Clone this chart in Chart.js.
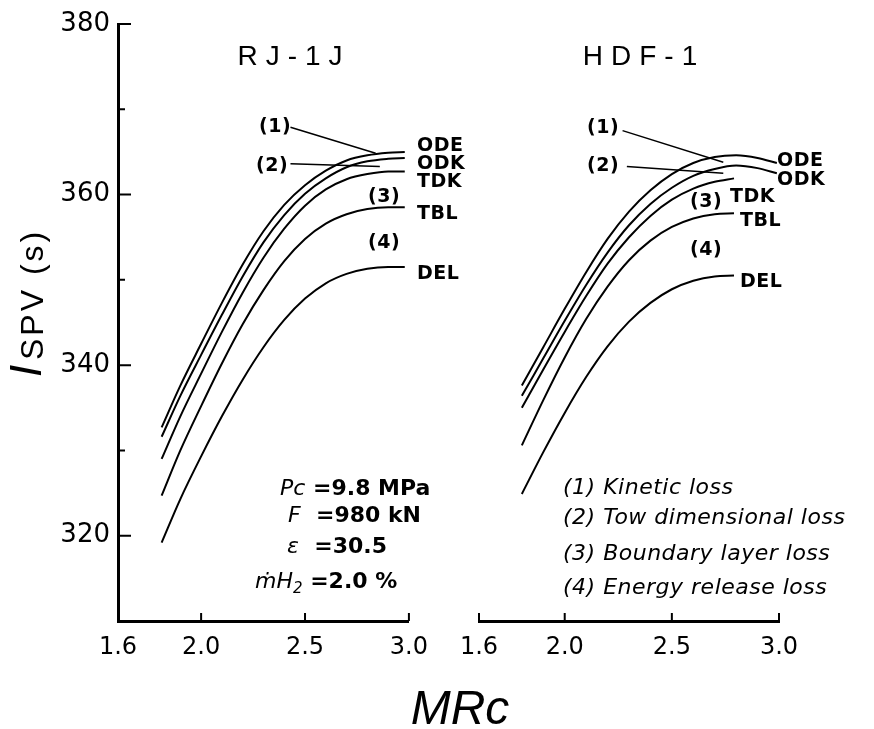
<!DOCTYPE html>
<html lang="en">
<head>
    <meta charset="UTF-8">
    <title>Isp vs MRc - RJ-1J / HDF-1</title>
    <script src="https://cdn.jsdelivr.net/npm/chart.js"></script>
    <style>
        body { margin: 0; background: #fff; }
        #wrap { position: relative; width: 874px; height: 729px; background: #fff; overflow: hidden; }
        canvas { position: absolute; top: 0; display: block; }
        .t { position: absolute; line-height: 1; white-space: nowrap; color: #000; font-family: "DejaVu Sans", sans-serif; }
        .title { font-family: "Liberation Sans", sans-serif; font-size: 28px; letter-spacing: 8px; transform: translateX(-50%); margin-left: 4px; }
        .cl { font-size: 19px; font-weight: bold; letter-spacing: 0.5px; }
        .note { font-size: 22px; font-weight: bold; }
        .note i { font-weight: normal; }
        .leg { font-size: 22px; font-style: italic; letter-spacing: 0.5px; }
        .rot { transform-origin: 0 0; transform: rotate(-90deg); font-family: "Liberation Sans", sans-serif; }
    </style>
</head>
<body>
<div id="wrap">
    <canvas id="rjChart" width="440" height="729" style="left:0"></canvas>
    <canvas id="hdfChart" width="434" height="729" style="left:440px"></canvas>

    <!-- titulos de cada panel -->
    <div class="t title" style="left:290px; top:42px">RJ-1J</div>
    <div class="t title" style="left:640px; top:42px">HDF-1</div>

    <!-- etiquetas de curvas, panel izquierdo -->
    <div class="t cl" style="left:417px; top:135px">ODE</div>
    <div class="t cl" style="left:417px; top:153px">ODK</div>
    <div class="t cl" style="left:417px; top:171px">TDK</div>
    <div class="t cl" style="left:417px; top:203px">TBL</div>
    <div class="t cl" style="left:417px; top:263px">DEL</div>
    <div class="t cl" style="left:259px; top:116px">(1)</div>
    <div class="t cl" style="left:256px; top:155px">(2)</div>
    <div class="t cl" style="left:368px; top:186px">(3)</div>
    <div class="t cl" style="left:368px; top:232px">(4)</div>

    <!-- etiquetas de curvas, panel derecho -->
    <div class="t cl" style="left:777px; top:150px">ODE</div>
    <div class="t cl" style="left:777px; top:169px">ODK</div>
    <div class="t cl" style="left:730px; top:186px">TDK</div>
    <div class="t cl" style="left:740px; top:210px">TBL</div>
    <div class="t cl" style="left:740px; top:271px">DEL</div>
    <div class="t cl" style="left:587px; top:117px">(1)</div>
    <div class="t cl" style="left:587px; top:155px">(2)</div>
    <div class="t cl" style="left:690px; top:191px">(3)</div>
    <div class="t cl" style="left:690px; top:239px">(4)</div>

    <!-- condiciones -->
    <div class="t note" style="left:280px; top:477px"><i>Pc</i> =9.8 MPa</div>
    <div class="t note" style="left:288px; top:504px"><i>F</i> &nbsp;=980 kN</div>
    <div class="t note" style="left:287px; top:535px"><i>&epsilon;</i> &nbsp;=30.5</div>
    <div class="t note" style="left:255px; top:570px"><i>&#7745;H<sub style="font-size:15px">2</sub></i> =2.0 %</div>

    <!-- leyenda de perdidas -->
    <div class="t leg" style="left:563px; top:476px">(1) Kinetic loss</div>
    <div class="t leg" style="left:563px; top:506px">(2) Tow dimensional loss</div>
    <div class="t leg" style="left:563px; top:542px">(3) Boundary layer loss</div>
    <div class="t leg" style="left:563px; top:576px">(4) Energy release loss</div>

    <!-- titulos de ejes -->
    <div class="t rot" style="left:4px; top:377px; font-size:44px; font-style:italic">I</div>
    <div class="t rot" style="left:16px; top:360px; font-size:32px; letter-spacing:3px">SPV (s)</div>
    <div class="t" style="left:460px; top:684px; transform:translateX(-50%); font-family:'Liberation Sans',sans-serif; font-size:48px; font-style:italic">MRc</div>
</div>

<script>
    // valores
    const mrLeft = [1.81, 1.9, 2.0, 2.1, 2.2, 2.3, 2.4, 2.5, 2.6, 2.7, 2.8, 2.9, 2.98];
    const rjODE = [332.7, 337.6, 342.5, 347.3, 351.8, 355.7, 358.8, 361.1, 362.8, 364.0, 364.6, 364.9, 365.0];
    const rjODK = [331.6, 336.4, 341.2, 345.9, 350.4, 354.4, 357.6, 360.1, 361.9, 363.2, 363.9, 364.2, 364.3];
    const rjTDK = [329.0, 334.0, 339.0, 343.9, 348.5, 352.6, 356.0, 358.7, 360.6, 361.8, 362.4, 362.7, 362.7];
    const rjTBL = [324.7, 330.0, 335.2, 340.2, 344.8, 348.8, 352.2, 354.8, 356.6, 357.7, 358.3, 358.5, 358.5];
    const rjDEL = [319.2, 324.3, 329.3, 334.0, 338.3, 342.1, 345.3, 347.8, 349.6, 350.7, 351.3, 351.5, 351.5];

    const mrRight = [1.80, 1.9, 2.0, 2.1, 2.2, 2.3, 2.4, 2.5, 2.6, 2.7, 2.8, 2.9, 2.99];
    const mrRightShort = [1.80, 1.9, 2.0, 2.1, 2.2, 2.3, 2.4, 2.5, 2.6, 2.7, 2.79];
    const hdfODE = [337.6, 342.1, 346.6, 350.9, 354.8, 358.0, 360.5, 362.4, 363.7, 364.4, 364.6, 364.3, 363.7];
    const hdfODK = [336.4, 340.8, 345.2, 349.4, 353.2, 356.4, 358.9, 360.8, 362.2, 363.0, 363.4, 363.1, 362.5];
    const hdfTDK = [335.0, 339.5, 343.9, 348.1, 351.9, 355.0, 357.5, 359.4, 360.7, 361.5, 361.9];
    const hdfTBL = [330.6, 335.9, 340.9, 345.4, 349.2, 352.3, 354.6, 356.2, 357.2, 357.7, 357.8];
    const hdfDEL = [324.9, 329.8, 334.4, 338.6, 342.2, 345.1, 347.3, 348.9, 349.9, 350.4, 350.5];

    const yMajor = [320, 340, 360, 380];
    const yMinor = [330, 350, 370];
    const xTicks = [1.6, 2.0, 2.5, 3.0];

    Chart.defaults.font.family = "'DejaVu Sans', sans-serif";
    Chart.defaults.color = '#000';

    // marcas de escala hacia adentro y lineas guia de (1) y (2)
    const insideTicks = {
        id: 'insideTicks',
        afterDraw(chart, args, opts) {
            const ctx = chart.ctx;
            const x = chart.scales.x;
            const y = chart.scales.y;
            ctx.save();
            ctx.strokeStyle = '#000';
            ctx.lineWidth = 2;
            ctx.beginPath();
            if (opts.yAxis) {
                yMajor.forEach(v => {
                    const py = y.getPixelForValue(v);
                    ctx.moveTo(x.left, py);
                    ctx.lineTo(x.left + 13, py);
                });
                yMinor.forEach(v => {
                    const py = y.getPixelForValue(v);
                    ctx.moveTo(x.left, py);
                    ctx.lineTo(x.left + 7, py);
                });
            }
            xTicks.forEach(v => {
                const px = x.getPixelForValue(v);
                ctx.moveTo(px, y.bottom);
                ctx.lineTo(px, y.bottom - 8);
            });
            ctx.stroke();
            ctx.lineWidth = 1.5;
            ctx.beginPath();
            (opts.leaders || []).forEach(l => {
                ctx.moveTo(x.getPixelForValue(l[0]), y.getPixelForValue(l[1]));
                ctx.lineTo(x.getPixelForValue(l[2]), y.getPixelForValue(l[3]));
            });
            ctx.stroke();
            ctx.restore();
        }
    };

    function curve(xs, ys) {
        return {
            data: xs.map((v, i) => ({ x: v, y: ys[i] })),
            borderColor: '#000',
            borderWidth: 2,
            pointRadius: 0,
            fill: false,
            cubicInterpolationMode: 'monotone'
        };
    }

    function makeChart(id, datasets, showY, padding, leaders) {
        return new Chart(document.getElementById(id), {
            type: 'line',
            data: { datasets: datasets },
            options: {
                responsive: false,
                animation: false,
                devicePixelRatio: 1,
                layout: { padding: padding },
                plugins: {
                    legend: { display: false },
                    tooltip: { enabled: false },
                    insideTicks: { yAxis: showY, leaders: leaders }
                },
                scales: {
                    x: {
                        type: 'linear',
                        min: 1.6,
                        max: 3.0,
                        grid: { display: false, drawTicks: false },
                        border: { color: '#000', width: 3 },
                        afterBuildTicks: s => { s.ticks = xTicks.map(v => ({ value: v })); },
                        afterFit: s => { s.height = 108; },
                        ticks: {
                            autoSkip: false,
                            maxRotation: 0,
                            padding: 12,
                            font: { size: 24 },
                            callback: v => Number(v).toFixed(1)
                        }
                    },
                    y: {
                        type: 'linear',
                        display: showY,
                        min: 310,
                        max: 380,
                        grid: { display: false, drawTicks: false },
                        border: { color: '#000', width: 3 },
                        afterBuildTicks: s => { s.ticks = yMajor.map(v => ({ value: v })); },
                        afterFit: s => { s.width = showY ? 118 : 0; },
                        ticks: {
                            autoSkip: false,
                            padding: 8,
                            font: { size: 26 }
                        }
                    }
                }
            },
            plugins: [insideTicks]
        });
    }

    const rjChart = makeChart('rjChart', [
        curve(mrLeft, rjODE),
        curve(mrLeft, rjODK),
        curve(mrLeft, rjTDK),
        curve(mrLeft, rjTBL),
        curve(mrLeft, rjDEL)
    ], true, { top: 24, right: 25, bottom: 0, left: 0 },
       [[2.43, 367.9, 2.84, 364.85], [2.43, 363.6, 2.86, 363.3]]);

    const hdfChart = makeChart('hdfChart', [
        curve(mrRight, hdfODE),
        curve(mrRight, hdfODK),
        curve(mrRightShort, hdfTDK),
        curve(mrRightShort, hdfTBL),
        curve(mrRightShort, hdfDEL)
    ], false, { top: 24, right: 95, bottom: 0, left: 39 },
       [[2.27, 367.5, 2.74, 363.8], [2.29, 363.3, 2.74, 362.5]]);
</script>
</body>
</html>
